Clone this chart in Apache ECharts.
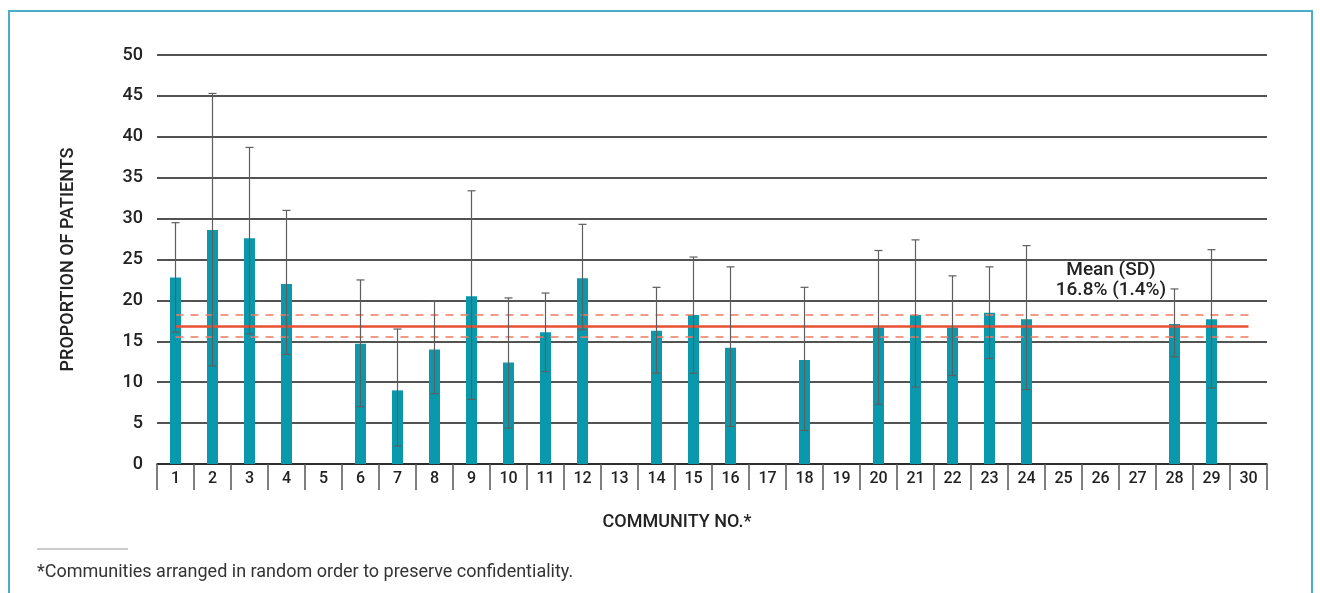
<!DOCTYPE html>
<html><head><meta charset="utf-8">
<script src="https://cdn.jsdelivr.net/npm/echarts@6/dist/echarts.min.js"></script>
<style>html,body{margin:0;padding:0;background:#fff}#c{width:1320px;height:593px}</style>
</head><body><div id="c"></div>
<script>
const categories = ['1','2','3','4','5','6','7','8','9','10','11','12','13','14','15','16','17','18','19','20','21','22','23','24','25','26','27','28','29','30'];
const proportions = [22.8,28.6,27.6,22.0,null,14.7,9.0,14.0,20.5,12.4,16.1,22.7,null,16.3,18.2,14.2,null,12.7,null,16.7,18.2,16.7,18.5,17.7,null,null,null,17.1,17.7,null];
const errLow  = [16.1,12.0,15.9,13.4,null,7.0,2.2,8.6,7.9,4.4,11.3,16.4,null,11.1,11.1,4.6,null,4.1,null,7.3,9.4,10.8,12.9,9.1,null,null,null,13.1,9.3,null];
const errHigh = [29.5,45.3,38.7,31.0,null,22.5,16.5,19.9,33.4,20.3,20.9,29.3,null,21.6,25.3,24.1,null,21.6,null,26.1,27.4,23.0,24.1,26.7,null,null,null,21.4,26.2,null];
const meanValue = 16.8;
const sdUpper = 18.2;
const sdLower = 15.5;
const yTicks = [0,5,10,15,20,25,30,35,40,45,50];
const meanLabel = ['Mean (SD)','16.8% (1.4%)'];

const FONT = 'Roboto, "Noto Sans", sans-serif';
const chart = echarts.init(document.getElementById('c'), null, {renderer:'canvas'});

const errData = categories.map((c,i)=> errLow[i]==null ? null : [i, errLow[i], errHigh[i]]).filter(d=>d);

chart.setOption({
  animation:false,
  backgroundColor:'#fff',
  grid:{left:157,right:53,top:55,bottom:129,containLabel:false},
  xAxis:{
    type:'category', data:categories, boundaryGap:true,
    axisLine:{show:true,lineStyle:{color:'#222',width:1.5}},
    axisTick:{show:true,length:26,interval:0,lineStyle:{color:'#555',width:1.5}},
    axisLabel:{interval:0,fontFamily:FONT,fontSize:16,fontWeight:500,color:'#222',margin:7}
  },
  yAxis:{
    type:'value', min:0, max:50, interval:5,
    axisLine:{show:false}, axisTick:{show:false},
    axisLabel:{fontFamily:FONT,fontSize:18,fontWeight:500,color:'#222',margin:14,formatter:v=>yTicks.includes(v)?String(v):''},
    splitLine:{show:true,lineStyle:{color:'#1a1a1a',width:1.6}},
    name:'PROPORTION OF PATIENTS', nameLocation:'middle', nameGap:80, nameRotate:90,
    nameTextStyle:{fontFamily:FONT,fontSize:18,fontWeight:500,color:'#222'}
  },
  series:[
    {
      type:'bar', data:proportions, barWidth:11,
      itemStyle:{color:'#0a99ac'},
      z:2,
      markLine:{
        silent:true, symbol:'none', label:{show:false},
        data:[
          [{coord:['1',meanValue],lineStyle:{color:'#e84f33',width:2.5,type:'solid'}},{coord:['30',meanValue]}],
          [{coord:['1',sdUpper],lineStyle:{color:'#ee7a62',width:1.5,type:[8,7]}},{coord:['30',sdUpper]}],
          [{coord:['1',sdLower],lineStyle:{color:'#ee7a62',width:1.5,type:[8,7]}},{coord:['30',sdLower]}]
        ]
      }
    },
    {
      type:'custom', data:errData, z:5,
      renderItem:function(params,api){
        const x = api.value(0);
        const lo = api.coord([x, api.value(1)]);
        const hi = api.coord([x, api.value(2)]);
        const cx = lo[0];
        const w = 4;
        const st = {stroke:'#5e5e5e',lineWidth:1.2};
        return {type:'group',children:[
          {type:'line',shape:{x1:cx,y1:lo[1],x2:cx,y2:hi[1]},style:st},
          {type:'line',shape:{x1:cx-w,y1:hi[1],x2:cx+w,y2:hi[1]},style:st},
          {type:'line',shape:{x1:cx-w,y1:lo[1],x2:cx+w,y2:lo[1]},style:st}
        ]};
      }
    }
  ],
  graphic:[
    {type:'rect',shape:{x:9,y:11,width:1303,height:600},style:{fill:'none',stroke:'#49adc6',lineWidth:2},silent:true},
    {type:'text',x:1111,y:260,style:{text:meanLabel.join('\n'),fontFamily:FONT,fontSize:19,fontWeight:500,fill:'#222',align:'center',verticalAlign:'top',lineHeight:20}},
    {type:'text',x:677,y:522,style:{text:'COMMUNITY NO.*',fontFamily:FONT,fontSize:18,fontWeight:500,fill:'#222',align:'center',verticalAlign:'middle'}},
    {type:'line',shape:{x1:37,y1:549,x2:128,y2:549},style:{stroke:'#999',lineWidth:1.2}},
    {type:'text',x:37,y:572,style:{text:'*Communities arranged in random order to preserve confidentiality.',fontFamily:FONT,fontSize:18,fill:'#333',verticalAlign:'middle'}}
  ]
});
</script></body></html>
